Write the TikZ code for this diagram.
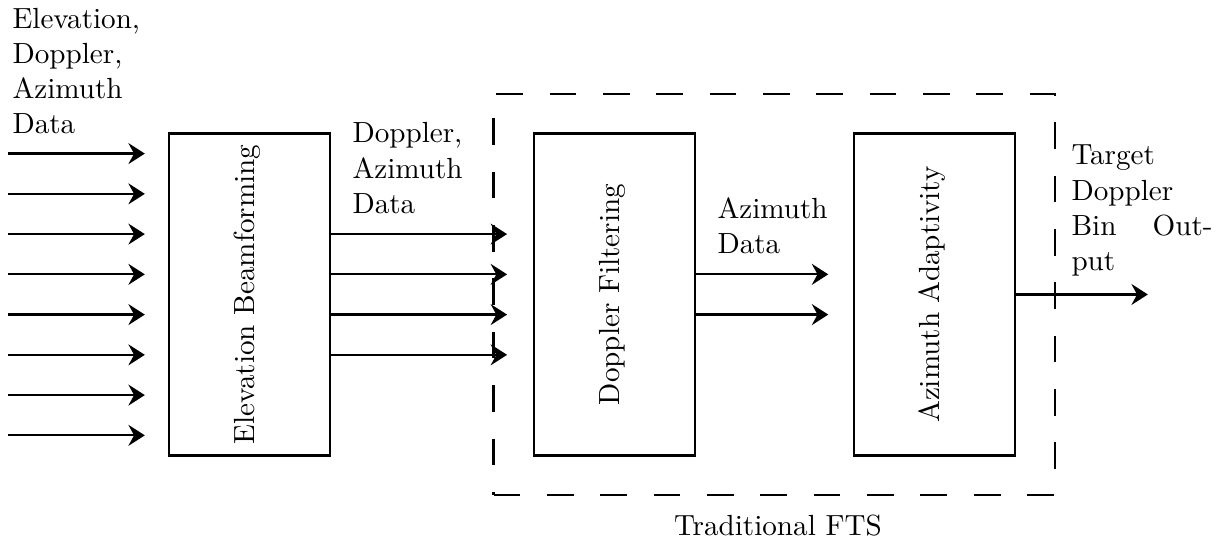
\documentclass[tikz,border=0pt]{standalone}
\usetikzlibrary{arrows.meta}
\begin{document}
\begin{tikzpicture}[
  font=\fontsize{10.3pt}{12.4pt}\selectfont,
  box/.style={draw, line width=0.8pt, minimum width=2cm, minimum height=4cm, inner sep=0},
  arr/.style={line width=0.8pt, -{Stealth[length=5.8pt,width=7.4pt,inset=2pt]}},
  lbl/.style={anchor=base west, inner sep=0, text width=5.2em, align=left},
  ftsline/.style={line width=0.8pt, dash pattern=on 0.3314cm off 0.3314cm},
]
\useasboundingbox (-3.099,-3.099) rectangle (12.168,3.658);

% blocks
\node[box] (elev) at (0,0) {};
\node[rotate=90] (elevt) at ([xshift=-0.03cm]elev.center) {Elevation Beamforming};
\node[box] (dopp) at (4.535,0) {};
\node[rotate=90] (doppt) at ([xshift=-0.03cm]dopp.center) {Doppler Filtering};
\node[box] (azim) at (8.51,0) {};
\node[rotate=90] (azimt) at ([xshift=-0.03cm]azim.center) {Azimuth Adaptivity};

% dashed FTS frame
\node[minimum width=6.96cm, minimum height=4.96cm, inner sep=0] (fts) at (6.52,0) {};
\draw[ftsline] (fts.south west) -- (fts.south east) -- (fts.north east) -- (fts.north west) -- cycle;
\node[anchor=base] (ftslbl) at (6.565,-2.988) {Traditional FTS};

% input arrows
\foreach \y [count=\i] in {1.75,1.25,0.75,0.25,-0.25,-0.75,-1.25,-1.75} {
  \coordinate (ins\i) at (-3,\y);
  \coordinate (ine\i) at (-1.3,\y);
  \draw[arr] (ins\i) -- (ine\i);
}

% elevation outputs
\foreach \y [count=\i] in {0.75,0.25,-0.25,-0.75} {
  \coordinate (eo\i) at (3.2,\y);
  \draw[arr] (elev.east |- eo\i) -- (eo\i);
}

% doppler outputs
\foreach \y [count=\i] in {0.25,-0.25} {
  \coordinate (do\i) at (7.19,\y);
  \draw[arr] (dopp.east |- do\i) -- (do\i);
}

% output
\coordinate (out) at (11.16,0);
\draw[arr] (azim.east) -- (out);

% labels
\node[lbl] (l1) at (-2.95,3.31) {Elevation,\\Doppler,\\Azimuth\\Data};
\node[lbl] (l2) at (1.273,1.882) {Doppler,\\Azimuth\\Data};
\node[lbl] (l3) at (5.807,0.95) {Azimuth\\Data};
\node[lbl,text width=1.752cm] (l4) at (10.205,1.609) {Target\\Doppler\\Bin\hfill Out-\\put};
\end{tikzpicture}
\end{document}
